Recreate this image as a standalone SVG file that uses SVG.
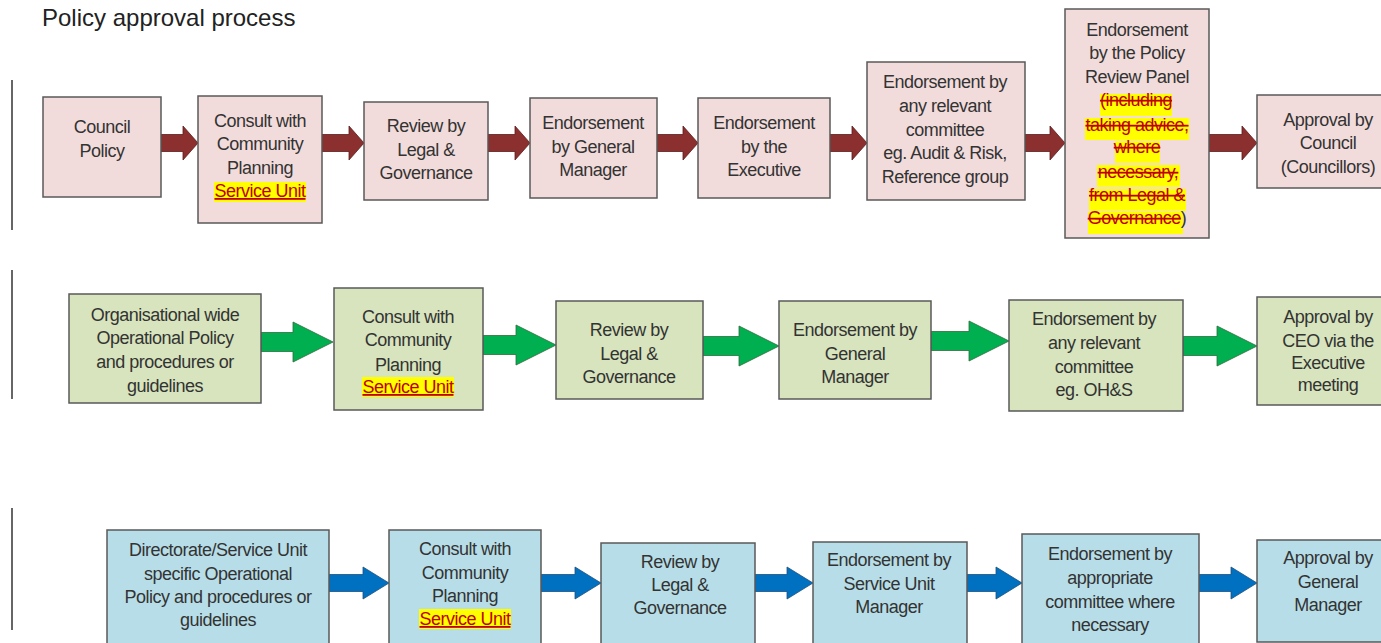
<svg xmlns="http://www.w3.org/2000/svg" width="1381" height="643" viewBox="0 0 1381 643">
<style>
text{font-family:"Liberation Sans",Arial,sans-serif;font-size:18px;fill:#333;text-anchor:middle;letter-spacing:-0.5px}
.title{font-size:24px;text-anchor:start;letter-spacing:0;fill:#222}
.b{stroke:#595959;stroke-width:1.5}
.pink{fill:#f2dcdb}.green{fill:#d7e4bd}.blue{fill:#b7dee8}
.ar1{fill:#8c2f2f;stroke:#5a1c1c;stroke-width:0.8}
.ar2{fill:#00b050;stroke:#2f6b3a;stroke-width:0.8}
.ar3{fill:#0070c0;stroke:#1f4f7a;stroke-width:0.8}
.su{fill:#c00000;text-decoration:underline}
.st{fill:#c00000;text-decoration:line-through}
.hl{fill:#ffff00}
.sep{stroke:#333;stroke-width:1.5}
</style>
<rect width="1381" height="643" fill="#fff"/>
<text class="title" x="42" y="26">Policy approval process</text>
<g id="separators">
<line class="sep" x1="12" y1="80" x2="12" y2="230"/>
<line class="sep" x1="12" y1="270" x2="12" y2="399"/>
<line class="sep" x1="12" y1="508" x2="12" y2="630"/>
</g>
<g id="connectors">
<polygon class="ar1" points="161,134.5 183,134.5 183,126 198,143 183,160 183,151.5 161,151.5"/>
<polygon class="ar1" points="322,134.5 349,134.5 349,126 364,143 349,160 349,151.5 322,151.5"/>
<polygon class="ar1" points="488,134.5 515,134.5 515,126 530,143 515,160 515,151.5 488,151.5"/>
<polygon class="ar1" points="657,134.5 683,134.5 683,126 698,143 683,160 683,151.5 657,151.5"/>
<polygon class="ar1" points="830,134.5 852,134.5 852,126 867,143 852,160 852,151.5 830,151.5"/>
<polygon class="ar1" points="1025,134.5 1050,134.5 1050,126 1065,143 1050,160 1050,151.5 1025,151.5"/>
<polygon class="ar1" points="1209,134.5 1242,134.5 1242,126 1257,143 1242,160 1242,151.5 1209,151.5"/>
<polygon class="ar2" points="261,332.5 293,332.5 293,322 333,342 293,362 293,351.5 261,351.5"/>
<polygon class="ar2" points="483,335.5 516,335.5 516,325 556,345 516,365 516,354.5 483,354.5"/>
<polygon class="ar2" points="703,336.5 739,336.5 739,326 779,346 739,366 739,355.5 703,355.5"/>
<polygon class="ar2" points="931,331.5 969,331.5 969,321 1009,341 969,361 969,350.5 931,350.5"/>
<polygon class="ar2" points="1183,336.5 1217,336.5 1217,326 1257,346 1217,366 1217,355.5 1183,355.5"/>
<polygon class="ar3" points="329,574.5 363,574.5 363,567 389,583 363,599 363,591.5 329,591.5"/>
<polygon class="ar3" points="541,574.5 575,574.5 575,567 601,583 575,599 575,591.5 541,591.5"/>
<polygon class="ar3" points="755,574.5 787,574.5 787,567 813,583 787,599 787,591.5 755,591.5"/>
<polygon class="ar3" points="967,574.5 996,574.5 996,567 1022,583 996,599 996,591.5 967,591.5"/>
<polygon class="ar3" points="1199,574.5 1231,574.5 1231,567 1257,583 1231,599 1231,591.5 1199,591.5"/>
</g>
<g id="n1-council-policy">
<rect class="b pink" x="43" y="97" width="118" height="100"/>
<text x="102"><tspan x="102" y="133">Council</tspan><tspan x="102" y="157">Policy</tspan></text>
</g>
<g id="n1-consult">
<rect class="b pink" x="198" y="96" width="124" height="127"/>
<rect class="hl" x="214" y="182" width="92" height="20"/>
<text><tspan x="260" y="127">Consult with</tspan><tspan x="260" y="150">Community</tspan><tspan x="260" y="174">Planning</tspan><tspan class="su" x="260" y="197">Service Unit</tspan></text>
</g>
<g id="n1-review">
<rect class="b pink" x="364" y="102" width="124" height="98"/>
<text><tspan x="426" y="132">Review by</tspan><tspan x="426" y="156">Legal &amp;</tspan><tspan x="426" y="179">Governance</tspan></text>
</g>
<g id="n1-gm">
<rect class="b pink" x="530" y="98" width="127" height="100"/>
<text><tspan x="593" y="129">Endorsement</tspan><tspan x="593" y="153">by General</tspan><tspan x="593" y="176">Manager</tspan></text>
</g>
<g id="n1-executive">
<rect class="b pink" x="698" y="98" width="132" height="100"/>
<text><tspan x="764" y="129">Endorsement</tspan><tspan x="764" y="153">by the</tspan><tspan x="764" y="176">Executive</tspan></text>
</g>
<g id="n1-committee">
<rect class="b pink" x="867" y="62" width="158" height="138"/>
<text><tspan x="945" y="88">Endorsement by</tspan><tspan x="945" y="112">any relevant</tspan><tspan x="945" y="136">committee</tspan><tspan x="945" y="159">eg. Audit &amp; Risk,</tspan><tspan x="945" y="183">Reference group</tspan></text>
</g>
<g id="n1-panel">
<rect class="b pink" x="1065" y="9" width="144" height="229"/>
<rect class="hl" x="1100" y="94" width="72" height="22"/>
<rect class="hl" x="1085" y="118" width="104" height="22"/>
<rect class="hl" x="1115" y="141" width="45" height="22"/>
<rect class="hl" x="1097" y="165" width="83" height="22"/>
<rect class="hl" x="1089" y="189" width="97" height="22"/>
<rect class="hl" x="1088" y="212" width="95" height="22"/>
<text><tspan x="1137" y="36">Endorsement</tspan><tspan x="1137" y="59">by the Policy</tspan><tspan x="1137" y="83">Review Panel</tspan><tspan class="st" x="1136" y="106">(including</tspan><tspan class="st" x="1137" y="131">taking advice,</tspan><tspan class="st" x="1137" y="153">where</tspan><tspan class="st" x="1138" y="178">necessary,</tspan><tspan class="st" x="1137" y="201">from Legal &amp;</tspan></text>
<text x="1137" y="224"><tspan class="st">Governance</tspan><tspan>)</tspan></text>
</g>
<g id="n1-approval">
<rect class="b pink" x="1257" y="95" width="130" height="93"/>
<text><tspan x="1328" y="126">Approval by</tspan><tspan x="1328" y="149">Council</tspan><tspan x="1328" y="173">(Councillors)</tspan></text>
</g>
<g id="n2-org">
<rect class="b green" x="69" y="294" width="192" height="109"/>
<text><tspan x="165" y="321">Organisational wide</tspan><tspan x="165" y="344">Operational Policy</tspan><tspan x="165" y="368">and procedures or</tspan><tspan x="165" y="392">guidelines</tspan></text>
</g>
<g id="n2-consult">
<rect class="b green" x="334" y="288" width="149" height="122"/>
<rect class="hl" x="362" y="377" width="92" height="20"/>
<text><tspan x="408" y="323">Consult with</tspan><tspan x="408" y="346">Community</tspan><tspan x="408" y="371">Planning</tspan><tspan class="su" x="408" y="393">Service Unit</tspan></text>
</g>
<g id="n2-review">
<rect class="b green" x="556" y="301" width="147" height="98"/>
<text><tspan x="629" y="336">Review by</tspan><tspan x="629" y="360">Legal &amp;</tspan><tspan x="629" y="383">Governance</tspan></text>
</g>
<g id="n2-gm">
<rect class="b green" x="779" y="301" width="152" height="98"/>
<text><tspan x="855" y="336">Endorsement by</tspan><tspan x="855" y="360">General</tspan><tspan x="855" y="383">Manager</tspan></text>
</g>
<g id="n2-committee">
<rect class="b green" x="1009" y="300" width="174" height="111"/>
<text><tspan x="1094" y="325">Endorsement by</tspan><tspan x="1094" y="349">any relevant</tspan><tspan x="1094" y="373">committee</tspan><tspan x="1094" y="396">eg. OH&amp;S</tspan></text>
</g>
<g id="n2-approval">
<rect class="b green" x="1257" y="297" width="130" height="108"/>
<text><tspan x="1328" y="323">Approval by</tspan><tspan x="1328" y="347">CEO via the</tspan><tspan x="1328" y="369">Executive</tspan><tspan x="1328" y="391">meeting</tspan></text>
</g>
<g id="n3-directorate">
<rect class="b blue" x="107" y="530" width="222" height="120"/>
<text><tspan x="218" y="556">Directorate/Service Unit</tspan><tspan x="218" y="580">specific Operational</tspan><tspan x="218" y="603">Policy and procedures or</tspan><tspan x="218" y="626">guidelines</tspan></text>
</g>
<g id="n3-consult">
<rect class="b blue" x="389" y="530" width="152" height="120"/>
<rect class="hl" x="419" y="609" width="92" height="20"/>
<text><tspan x="465" y="555">Consult with</tspan><tspan x="465" y="579">Community</tspan><tspan x="465" y="602">Planning</tspan><tspan class="su" x="465" y="625">Service Unit</tspan></text>
</g>
<g id="n3-review">
<rect class="b blue" x="601" y="543" width="154" height="107"/>
<text><tspan x="680" y="568">Review by</tspan><tspan x="680" y="591">Legal &amp;</tspan><tspan x="680" y="614">Governance</tspan></text>
</g>
<g id="n3-sum">
<rect class="b blue" x="813" y="542" width="154" height="108"/>
<text><tspan x="889" y="566">Endorsement by</tspan><tspan x="889" y="590">Service Unit</tspan><tspan x="889" y="613">Manager</tspan></text>
</g>
<g id="n3-committee">
<rect class="b blue" x="1022" y="534" width="177" height="116"/>
<text><tspan x="1110" y="560">Endorsement by</tspan><tspan x="1110" y="584">appropriate</tspan><tspan x="1110" y="608">committee where</tspan><tspan x="1110" y="631">necessary</tspan></text>
</g>
<g id="n3-approval">
<rect class="b blue" x="1257" y="540" width="130" height="102"/>
<text><tspan x="1328" y="564">Approval by</tspan><tspan x="1328" y="588">General</tspan><tspan x="1328" y="611">Manager</tspan></text>
</g>
</svg>
